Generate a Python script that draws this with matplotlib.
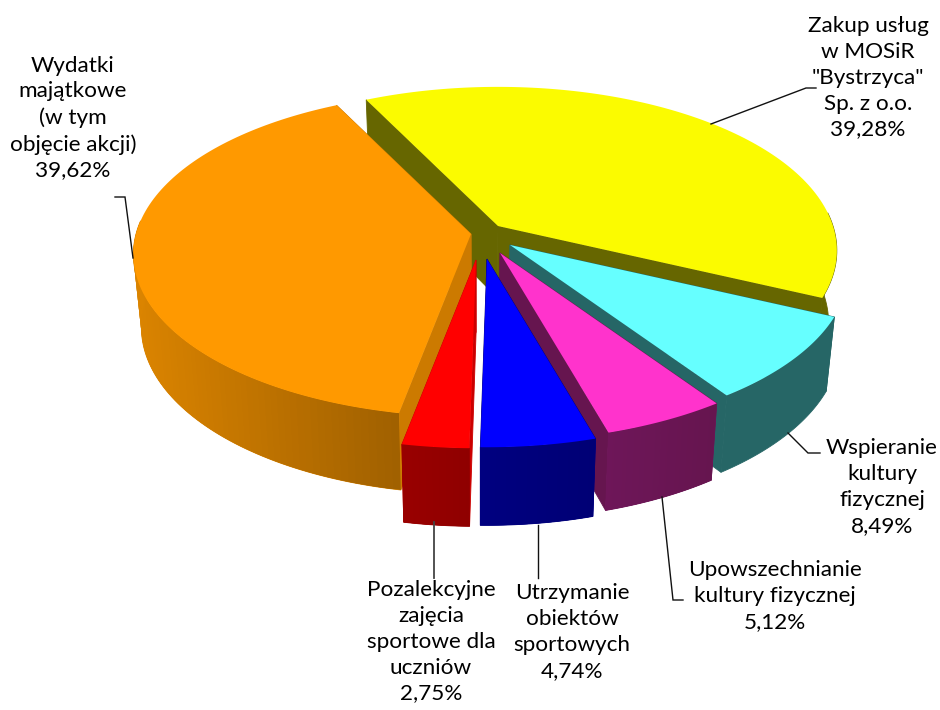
import numpy as np
import matplotlib
matplotlib.use("Agg")
import matplotlib.pyplot as plt
from matplotlib.colors import to_rgb

# data
names = ['Zakup usług\nw MOSiR\n"Bystrzyca"\nSp. z o.o.', 'Wspieranie\nkultury\nfizycznej',
         'Upowszechnianie\nkultury fizycznej', 'Utrzymanie\nobiektów\nsportowych',
         'Pozalekcyjne\nzajęcia\nsportowe dla\nuczniów', 'Wydatki\nmajątkowe\n(w tym\nobjęcie akcji)']
values = [39.28, 8.49, 5.12, 4.74, 2.75, 39.62]

# style
top_colors = ['#FBFB00', '#66FFFF', '#FF33CC', '#0000FF', '#FF0000', '#FF9900']
wall_colors = ['#666600', '#266666', '#66154F', '#000080', '#CC0000', '#CC7A00']
side_left = ['#666600', '#266666', '#6E1659', '#000080', '#990000', '#DB8400']
side_right = ['#666600', '#266666', '#66154F', '#000075', '#8F0000', '#A06000']
apex_x = [498, 510, 500, 487, 476, 471]
apex_y = [226, 245, 253, 259, 260, 234]
persp = [0.15, 0.15, 0.15, 0.15, 0.15, 0.125]
draw_order = [0, 1, 2, 5, 3, 4]
label_x = [868, 882, 775, 572, 431, 73]
label_y = [78, 487, 596, 632, 642, 118]
leaders = [[(711, 124), (806, 88), (816, 88)], [(788, 433), (808, 453), (820, 453)],
           [(662, 497), (673, 600), (683, 600)], [(538, 525), (538, 578)],
           [(434, 522), (434, 578)], [(133, 258), (125, 197), (115, 197)]]
leader_colors = ['#111111', '#111111', '#111111', '#111111', '#444444', '#111111']
leader_widths = [1.0, 1.0, 1.0, 1.0, 1.3, 1.0]

START = 116.5
RX, RY, T, SHRINK, VX = 335, 160, 72, 0.977, 480

fig = plt.figure(figsize=(9.4, 7.1), dpi=100)
ax = fig.add_axes([0, 0, 1, 1])
ax.set_xlim(0, 940)
ax.set_ylim(710, 0)
ax.axis('off')


def top_pt(cx, cy, deg, p):
    t = np.radians(deg)
    s = 1 / (1 + p * np.sin(t))
    return cx + RX * np.cos(t) * s, cy - RY * np.sin(t) * s, s


def bottom(x, y, s):
    return VX + (x - VX) * SHRINK, y + T * np.sqrt(s)


def mix(a, b, f):
    a, b = np.array(to_rgb(a)), np.array(to_rgb(b))
    return tuple(a + (b - a) * f)


edges = START - np.concatenate([[0], np.cumsum(values)]) * 360 / np.sum(values)

for i in draw_order:
    cx, cy = apex_x[i], apex_y[i]
    angs = np.linspace(edges[i], edges[i + 1], 120)
    xs, ys, ss = top_pt(cx, cy, angs, persp[i])
    bx, by = bottom(xs, ys, ss)
    acx, acy = bottom(cx, cy, 1.0)
    # radial walls
    for k in (0, -1):
        ax.fill([cx, xs[k], bx[k], acx], [cy, ys[k], by[k], acy], color=wall_colors[i], lw=0.6, zorder=2)
    # outer side: only the part facing the viewer, as one underlay plus shaded strips
    front = np.sin(np.radians(angs)) < 0.1
    fx, fy, gx, gy = xs[front], ys[front], bx[front], by[front]
    ax.fill(np.r_[fx, gx[::-1]], np.r_[fy, gy[::-1]], color=side_left[i], lw=0.6, zorder=2)
    xmin, xmax = fx.min(), fx.max()
    if side_left[i] != side_right[i]:
        for k in range(len(fx) - 1):
            e = min(k + 2, len(fx) - 1)
            f = (0.5 * (fx[k] + fx[k + 1]) - xmin) / (xmax - xmin)
            ax.fill([fx[k], fx[e], gx[e], gx[k]], [fy[k], fy[e], gy[e], gy[k]],
                    color=mix(side_left[i], side_right[i], f), lw=0, zorder=2)
    ax.fill(np.r_[cx, xs], np.r_[cy, ys], color=top_colors[i], lw=0, zorder=2)

for i, pts in enumerate(leaders):
    px, py = zip(*pts)
    ax.plot(px, py, color=leader_colors[i], lw=leader_widths[i], solid_joinstyle='miter', zorder=3)

for i, name in enumerate(names):
    pct = f"{values[i]:.2f}%".replace('.', ',')
    ax.text(label_x[i], label_y[i], f"{name}\n{pct}", ha='center', va='center', family='Lato',
            fontsize=16.2, color='black', linespacing=1.36, zorder=4)

fig.savefig('out.png', dpi=100)
